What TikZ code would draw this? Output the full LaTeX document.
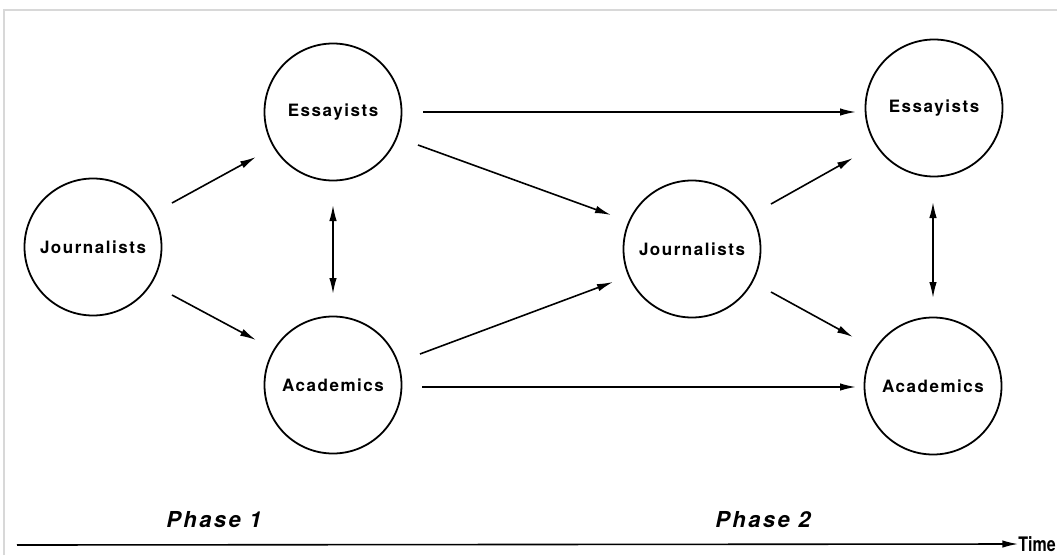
\documentclass[tikz,border=0pt]{standalone}
\usepackage{fontspec}
\usepackage{graphicx}
\setmainfont{TeX Gyre Heros}
\newfontfamily\lblfont[LetterSpace=9]{TeX Gyre Heros}
\newfontfamily\phasefont[LetterSpace=11]{TeX Gyre Heros}
\usetikzlibrary{arrows.meta}
\definecolor{framegray}{RGB}{216,216,216}
\tikzset{
  grp/.style={circle, draw, line width=1.8pt, minimum size=137pt, inner sep=0pt,
    font=\lblfont\bfseries\fontsize{17}{19}\selectfont},
  flow/.style={line width=1.6pt, -{Latex[length=16pt,width=7.5pt]}},
  mutual/.style={line width=1.6pt, {Latex[length=16pt,width=7.5pt]}-{Latex[length=16pt,width=7.5pt]}},
  phase/.style={font=\phasefont\bfseries\itshape\fontsize{22}{24}\selectfont},
  frame/.style={draw=framegray, line width=2pt}
}
\begin{document}
\begin{tikzpicture}[x=1pt,y=-1pt]
\useasboundingbox (0,0) rectangle (1057,555);
\draw[frame] (4,555) -- (4,10) -- (1057,10);

\node[grp] (j1) at (93,247) {Journalists};
\node[grp] (e1) at (333,112) {Essayists};
\node[grp] (a1) at (333,385) {Academics};
\node[grp] (j2) at (692,249) {Journalists};
\node[grp] (e2) at (934,108) {Essayists};
\node[grp] (a2) at (933,386) {Academics};

\coordinate (j1e) at (172,203); \coordinate (e1j) at (256,157);
\coordinate (j1a) at (172,295); \coordinate (a1j) at (256,340);
\draw[flow] (j1e) -- (e1j);
\draw[flow] (j1a) -- (a1j);

\coordinate (e1d) at (333,205); \coordinate (a1u) at (333,294);
\draw[mutual] (e1d) -- (a1u);

\coordinate (e1r) at (423,112); \coordinate (e2l) at (856,112);
\draw[flow] (e1r) -- (e2l);
\coordinate (e1m) at (418,145); \coordinate (j2e) at (611,215);
\draw[flow] (e1m) -- (j2e);
\coordinate (a1m) at (420,354); \coordinate (j2a) at (613,282);
\draw[flow] (a1m) -- (j2a);
\coordinate (a1r) at (422,387); \coordinate (a2l) at (856,387);
\draw[flow] (a1r) -- (a2l);

\coordinate (j2eo) at (771,204); \coordinate (e2j) at (853,158);
\coordinate (j2ao) at (771,292); \coordinate (a2j) at (853,337);
\draw[flow] (j2eo) -- (e2j);
\draw[flow] (j2ao) -- (a2j);

\coordinate (e2d) at (933,202); \coordinate (a2u) at (933,298);
\draw[mutual] (e2d) -- (a2u);

\node[phase] (p1) at (214,520) {Phase 1};
\node[phase] (p2) at (763,520) {Phase 2};

\node[font=\bfseries\fontsize{20}{22}\selectfont, anchor=east, inner sep=0pt] (time) at (1056,544) {\scalebox{0.8}[1]{Time}};
\coordinate (t0) at (17,545);
\draw[flow] (t0) -- (time.west);
\end{tikzpicture}
\end{document}
